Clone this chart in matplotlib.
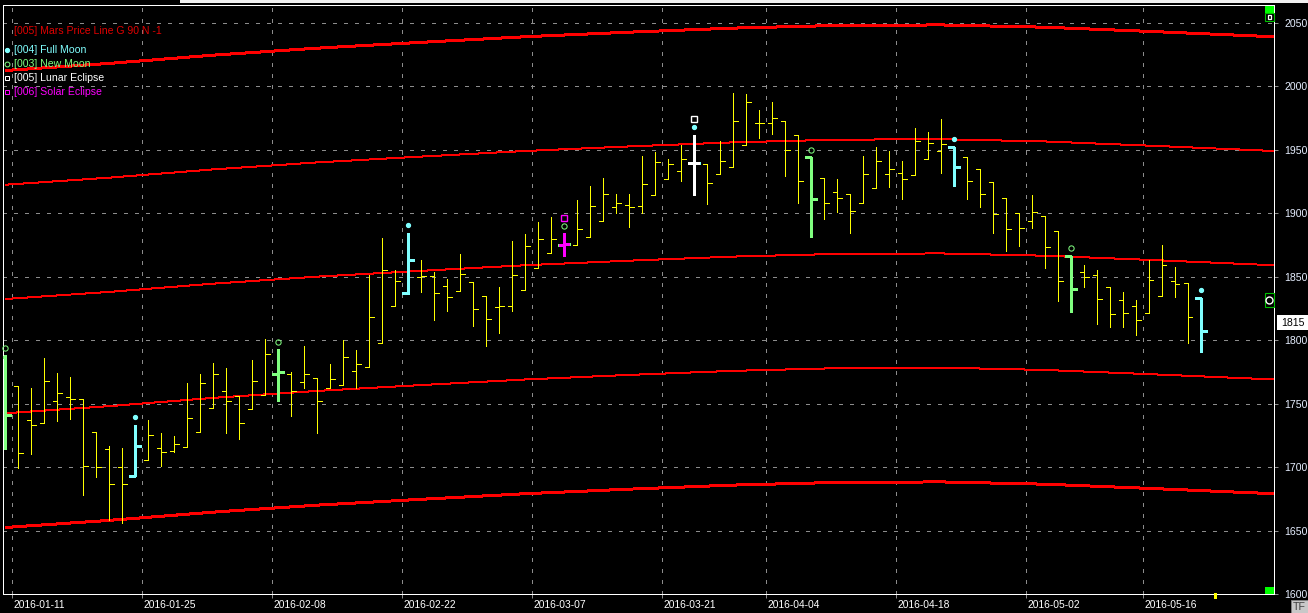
import matplotlib
matplotlib.use("Agg")
import matplotlib.pyplot as plt
from matplotlib.transforms import ScaledTranslation
from matplotlib.patches import Rectangle
from matplotlib.lines import Line2D
import numpy as np

# ---------------- data ----------------
opens = [1787, 1764, 1737, 1735, 1752, 1755, 1754, 1728, 1714, 1700,
         1693, 1705.5, 1715, 1713, 1716, 1727.5, 1746.5, 1760, 1756, 1746,
         1757, 1773.5, 1773.5, 1767, 1770, 1762, 1765, 1776, 1779, 1798,
         1827, 1837, 1849.5, 1850.5, 1843, 1838.5, 1845.5, 1834.5, 1826, 1826.5,
         1839.5, 1856.5, 1868.5, 1875, 1875, 1881, 1893.5, 1904.5, 1906.5, 1905.5,
         1914, 1927, 1933, 1939.5, 1938.5, 1930.5, 1936, 1954, 1971, 1971,
         1972.5, 1961.5, 1944, 1927.5, 1917, 1915, 1908, 1919.5, 1930.5, 1932,
         1930, 1943, 1949, 1952, 1944, 1934.5, 1924.5, 1912, 1900, 1893.5,
         1897.5, 1886, 1866.5, 1853.5, 1851, 1841.5, 1831.5, 1827, 1821.5, 1834.5,
         1846.5, 1845, 1833]
highs = [1788, 1764, 1762, 1786, 1774, 1771, 1754, 1728, 1716.5, 1715,
         1733, 1737, 1727, 1724.5, 1766, 1773.5, 1782, 1778, 1756, 1784,
         1801, 1793, 1775, 1795, 1770, 1781, 1800, 1792, 1851, 1880.5,
         1855, 1884, 1863, 1854, 1848, 1868, 1845.5, 1834.5, 1841.5, 1878,
         1883.5, 1893, 1897, 1884, 1910, 1921.5, 1928, 1915.5, 1915, 1945,
         1948, 1943, 1953.5, 1961.5, 1938.5, 1956.5, 1995, 1994, 1981, 1987.5,
         1972.5, 1961.5, 1944, 1927.5, 1927, 1915, 1945, 1952, 1949, 1941,
         1967, 1964, 1974, 1952, 1944, 1934.5, 1924.5, 1912, 1900, 1914,
         1897.5, 1886, 1866.5, 1859, 1855, 1841.5, 1838, 1831.5, 1863, 1875,
         1857.5, 1845, 1833]
lows = [1714, 1699, 1710, 1735, 1736, 1738, 1678, 1692, 1658.5, 1656,
        1693, 1705.5, 1701, 1711.5, 1716, 1727.5, 1746.5, 1727, 1722, 1746,
        1757, 1752, 1740.5, 1762, 1727, 1762, 1765, 1762, 1779, 1798,
        1827, 1836, 1838, 1816, 1823, 1838.5, 1811, 1795, 1806, 1823,
        1839.5, 1856.5, 1868.5, 1866, 1875, 1881, 1893.5, 1900.5, 1889.5, 1900.5,
        1914, 1927, 1925, 1914.5, 1907.5, 1930.5, 1936, 1954, 1959.5, 1962,
        1929, 1908, 1881.5, 1895.5, 1901, 1884.5, 1908, 1919.5, 1921, 1911,
        1930, 1943, 1931.5, 1921.5, 1911.5, 1904.5, 1884.5, 1870, 1874.5, 1888.5,
        1856.5, 1830.5, 1822.5, 1841.5, 1812.5, 1810, 1810, 1804, 1821.5, 1834.5,
        1834, 1797.5, 1791]
closes = [1741, 1711, 1733, 1768, 1758, 1753.5, 1701, 1700, 1687, 1687,
          1716.5, 1725, 1712, 1718, 1739, 1766, 1773, 1752, 1735, 1768,
          1789, 1774.5, 1760, 1773, 1752, 1769, 1787, 1781, 1818, 1855,
          1846.5, 1863, 1850.5, 1837, 1834, 1852, 1824.5, 1817, 1827, 1851.5,
          1874, 1880, 1879.5, 1875.5, 1887.5, 1905.5, 1915, 1908, 1904.5, 1923,
          1940, 1938.5, 1942.5, 1939.5, 1923.5, 1941, 1973, 1987.5, 1971, 1975,
          1949.5, 1925, 1911, 1908, 1912, 1901.5, 1930.5, 1941.5, 1934.5, 1927,
          1956.5, 1955, 1954.5, 1936, 1925, 1915, 1899, 1887.5, 1888, 1901,
          1873, 1846.5, 1840, 1849.5, 1832.5, 1820.5, 1821.5, 1815.5, 1847, 1859,
          1844, 1818, 1807]

full_moon_bars = [10, 31, 53, 73, 92]
new_moon_bars = [0, 21, 43, 62, 82]
lunar_eclipse_bars = [53]
solar_eclipse_bars = [43]

date_labels = ["2016-01-11", "2016-01-25", "2016-02-08", "2016-02-22", "2016-03-07",
               "2016-03-21", "2016-04-04", "2016-04-18", "2016-05-02", "2016-05-16"]
date_bar = [1, 11, 21, 31, 41, 51, 59, 69, 79, 88]

# Mars price line: base curve sampled at bar positions, repeated every 90 points
mars_bar = [0, 8, 16, 24, 32, 40, 48, 56, 64, 72, 80, 88, 97.6]
mars_base = [1652.4, 1658, 1664.5, 1670, 1674.6, 1679, 1682.6, 1685.8, 1687.9,
             1688.3, 1686.5, 1683.2, 1679]
mars_steps = [0, 90, 180, 270, 360]

y_ticks = [1600, 1650, 1700, 1750, 1800, 1850, 1900, 1950, 2000, 2050]
last_price = 1815

legend_items = ["[005] Mars Price Line G 90 N -1", "[004] Full Moon", "[003] New Moon",
                "[005] Lunar Eclipse", "[006] Solar Eclipse"]

# ---------------- styling ----------------
W, H = 1308, 613
plt.rcParams["font.family"] = ["Liberation Sans", "DejaVu Sans"]
YEL = "#ffff00"
CYAN = "#80ffff"
GREEN = "#80ff80"
WHITE = "#ffffff"
MAG = "#ff00ff"
RED = "#ff0000"
GRID = "#8c8c8c"
PX = 0.72  # one pixel in points at dpi=100

fig = plt.figure(figsize=(W / 100, H / 100), dpi=100, facecolor="black")
ax = fig.add_axes([3 / W, 19 / H, 1271 / W, 589 / H])
ax.set_facecolor("black")
ax.set_xlim(-0.177, 97.6)
ax.set_ylim(1600, 2064)


def fpx(x, y):
    return x / W, 1 - y / H


# grid
for p in y_ticks[1:]:
    ax.axhline(p, color=GRID, lw=PX, ls=(0, (3, 7)), antialiased=False, zorder=1)
for b in date_bar:
    ax.axvline(b - 0.5, color=GRID, lw=PX, ls=(0, (3, 7)), antialiased=False, zorder=1)

# Mars price lines
mb = np.array(mars_base)
for k, s in enumerate(mars_steps):
    ax.plot(mars_bar, mb + s, color=RED, lw=2 * PX if k in (0, 4) else PX,
            antialiased=False, zorder=2, solid_capstyle="butt")

# OHLC bars
n = len(opens)
special = set(full_moon_bars) | set(new_moon_bars)
norm = [i for i in range(n) if i not in special]
tk = 0.33
ax.vlines(norm, [lows[i] for i in norm], [highs[i] for i in norm], colors=YEL,
          lw=PX, antialiased=False, zorder=3)
ax.hlines([opens[i] for i in norm], [i - tk for i in norm], norm, colors=YEL,
          lw=PX, antialiased=False, zorder=3)
ax.hlines([closes[i] for i in norm], norm, [i + tk for i in norm], colors=YEL,
          lw=PX, antialiased=False, zorder=3)


def thick_bar(i, col, t=0.45, dx=0.0, z=4):
    x = i + dx
    ax.vlines([x], [lows[i]], [highs[i]], colors=col, lw=3 * PX, zorder=z,
              antialiased=False)
    ax.hlines([opens[i]], [x - t], [x], colors=col, lw=3 * PX, zorder=z,
              antialiased=False)
    ax.hlines([closes[i]], [x], [x + t], colors=col, lw=3 * PX, zorder=z,
              antialiased=False)


for i in full_moon_bars:
    thick_bar(i, CYAN)
for i in new_moon_bars:
    thick_bar(i, GREEN)
for i in lunar_eclipse_bars:
    thick_bar(i, WHITE, t=0.42, dx=-0.04, z=5)
for i in solar_eclipse_bars:
    thick_bar(i, MAG, t=0.38, z=5)


def up(pts):
    return ax.transData + ScaledTranslation(0, pts / 72, fig.dpi_scale_trans)


ax.plot(full_moon_bars, [highs[i] for i in full_moon_bars], ls="none", marker="o",
        ms=2.8, color=CYAN, mec=CYAN, transform=up(5.8), zorder=6, clip_on=False)
ax.plot(new_moon_bars, [highs[i] for i in new_moon_bars], ls="none", marker="o",
        ms=3.8, mfc="none", mec=GREEN, mew=PX, transform=up(5.3), zorder=6, clip_on=False)
ax.plot(lunar_eclipse_bars, [highs[i] for i in lunar_eclipse_bars], ls="none", marker="s",
        ms=3.8, mfc="none", mec=WHITE, mew=1.0, transform=up(11.3), zorder=6)
ax.plot(solar_eclipse_bars, [highs[i] for i in solar_eclipse_bars], ls="none", marker="s",
        ms=3.8, mfc="none", mec=MAG, mew=1.0, transform=up(11.3), zorder=6)

# axes, ticks
for sp in ax.spines.values():
    sp.set_color("white")
    sp.set_linewidth(PX)
ax.yaxis.tick_right()
ax.set_yticks(y_ticks)
ax.set_yticklabels([str(v) for v in y_ticks])
ax.tick_params(axis="y", colors=GRID, labelcolor="#e6eeff", length=3.2, width=PX,
               pad=4.3, labelsize=7.6, direction="out")
ax.set_xticks([b - 0.5 for b in date_bar])
ax.set_xticklabels(date_labels, ha="left")
ax.tick_params(axis="x", colors=GRID, labelcolor="white", length=2.9, width=PX,
               pad=1.2, labelsize=7.4, direction="out")
for lab in ax.get_xticklabels():
    lab.set_transform(lab.get_transform() + ScaledTranslation(1.2 / 72, 0, fig.dpi_scale_trans))

# legend (top-left)
leg_cols = [RED, CYAN, GREEN, WHITE, MAG]
leg_y = [31, 50, 64, 78, 92]
for s, c, y in zip(legend_items, leg_cols, leg_y):
    fig.text(*fpx(14, y), s, color=("#e00000" if c == RED else c), fontsize=7.6,
             va="center", ha="left")
fig.add_artist(Line2D([6.5 / W], [1 - 49.5 / H], marker="o", ms=2.8, color=CYAN,
                      transform=fig.transFigure))
fig.add_artist(Line2D([6.5 / W], [1 - 63.5 / H], marker="o", ms=3.5, mfc="none",
                      mec=GREEN, mew=PX, transform=fig.transFigure))
fig.add_artist(Line2D([6.5 / W], [1 - 77.5 / H], marker="s", ms=3.3, mfc="none",
                      mec=WHITE, mew=PX, transform=fig.transFigure))
fig.add_artist(Line2D([6.5 / W], [1 - 91.5 / H], marker="s", ms=3.3, mfc="none",
                      mec=MAG, mew=PX, transform=fig.transFigure))


def rect_px(x0, y0, x1, y1, fc, ec="none", lw=0.0, z=10):
    fx0, fy1 = fpx(x0, y0)
    fx1, fy0 = fpx(x1, y1)
    fig.add_artist(Rectangle((fx0, fy0), fx1 - fx0, fy1 - fy0, transform=fig.transFigure,
                             facecolor=fc, edgecolor=ec, lw=lw, zorder=z))


# top light strip
rect_px(180, 0, W, 3, "#f0f0f0")
# green corner squares
rect_px(1265, 5.5, 1274, 13, "#00ff00")
rect_px(1265, 587, 1274, 594, "#00ff00")
# top-right icon
rect_px(1265, 13, 1274, 20.5, "black", "#00c000", 0.8)
rect_px(1267.5, 15, 1271.5, 18.5, "none", "white", 0.9, z=11)
# mid-right icon
rect_px(1264.5, 293, 1274, 307, "black", "#00c000", 0.8)
fig.add_artist(Line2D([1269.3 / W], [1 - 300 / H], marker="o", ms=5, mfc="black",
                      mec="white", mew=1.0, transform=fig.transFigure, zorder=11))
# small yellow mark on bottom axis
rect_px(1213.5, 593, 1217, 598.5, YEL)
# TF box
rect_px(1291, 600, 1307.5, 613, "#c8c8c8", "#808080", 0.7)
fig.text(*fpx(1299.3, 606.8), "TF", color="#404040", fontsize=7.6, ha="center",
         va="center", zorder=12)
# last price box
rect_px(1277, 315, 1308, 330, "white")
fig.text(*fpx(1292.5, 322.5), str(last_price), color="black", fontsize=7.6,
         ha="center", va="center", zorder=12)

fig.savefig("out.png", dpi=100, facecolor="black")
